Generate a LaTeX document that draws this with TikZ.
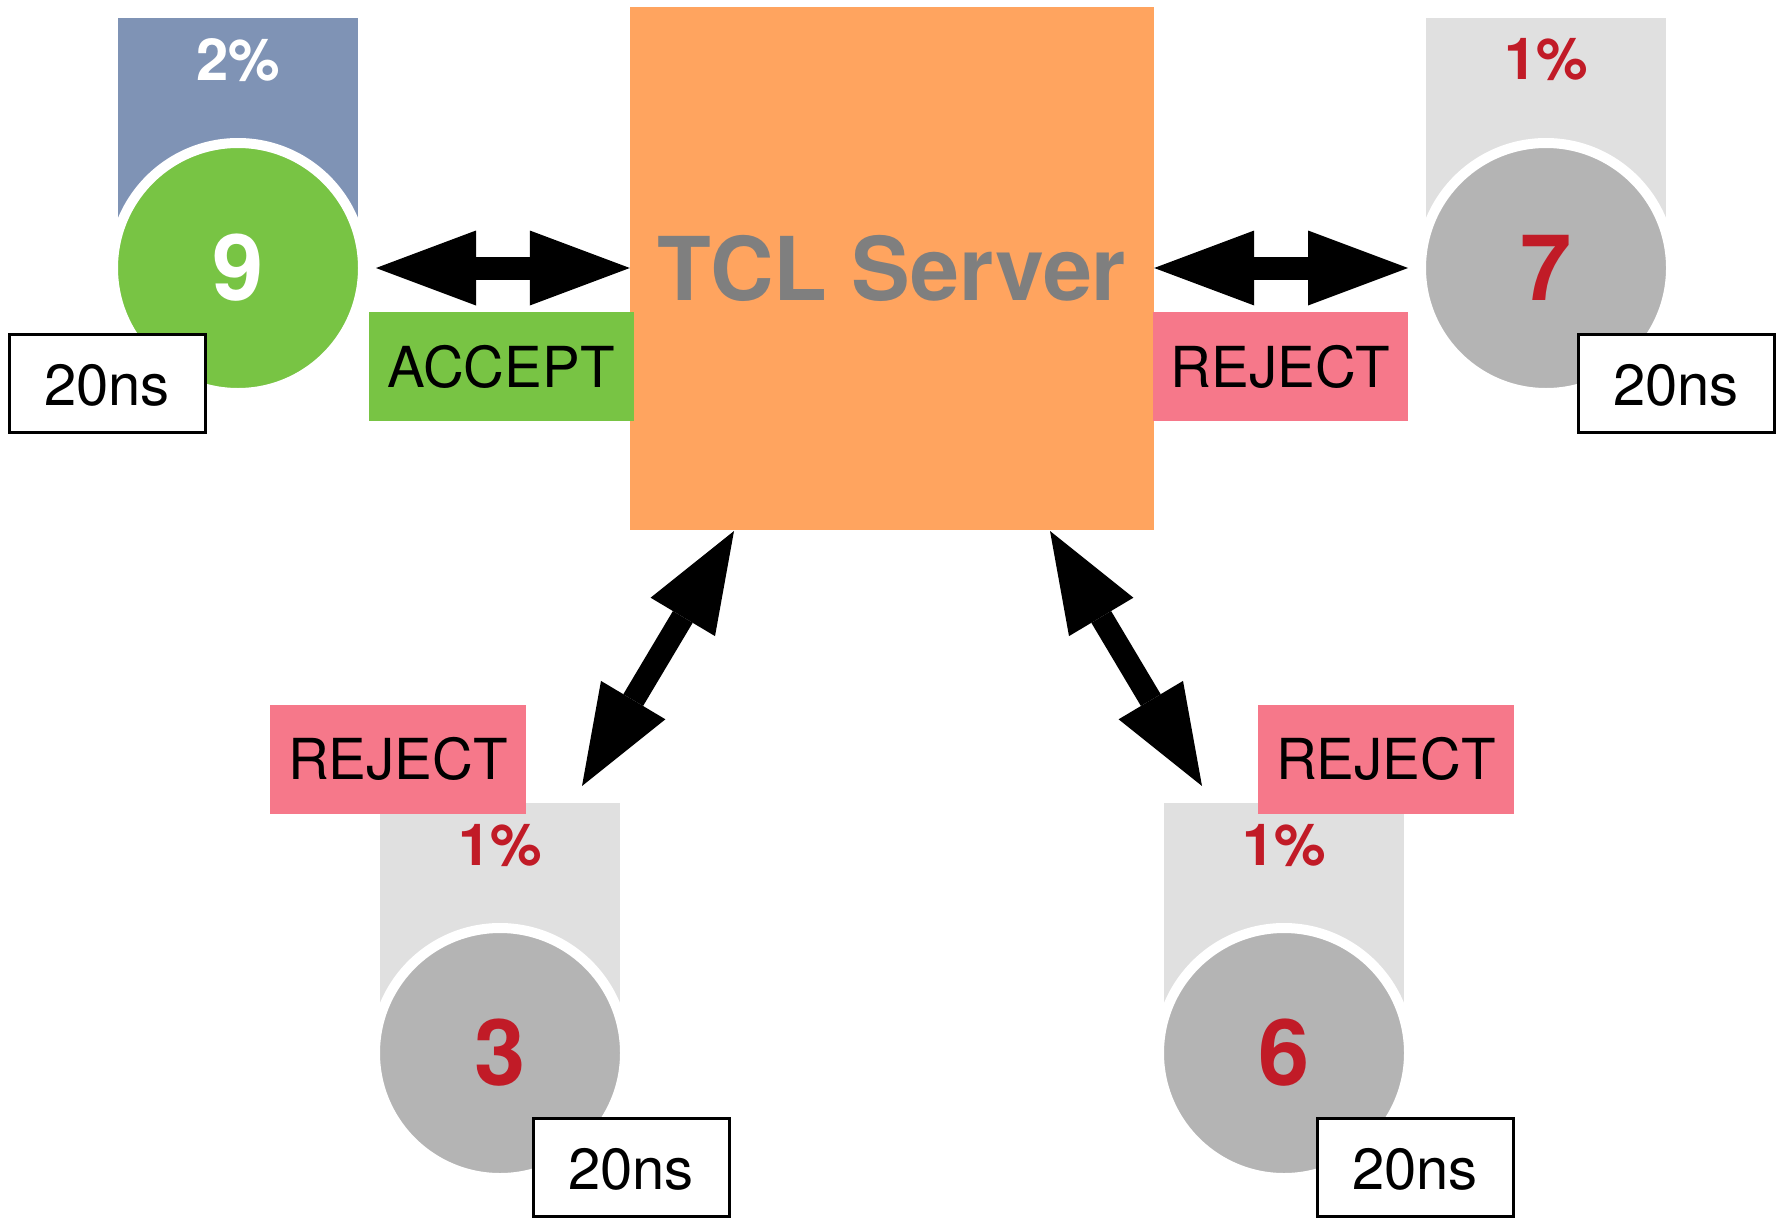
\documentclass[tikz,border=0pt]{standalone}
\usepackage{fontspec}
\setmainfont{TeX Gyre Heros}
\usetikzlibrary{arrows.meta,calc}
\definecolor{barblue}{HTML}{7F93B5}
\definecolor{okgreen}{HTML}{78C444}
\definecolor{srvorange}{HTML}{FFA45F}
\definecolor{nopink}{HTML}{F6788A}
\definecolor{barlight}{HTML}{E0E0E0}
\definecolor{idlegray}{HTML}{B4B4B4}
\definecolor{alertred}{HTML}{C11B27}
\definecolor{srvtext}{HTML}{7F7F7F}

\begin{document}
\begin{tikzpicture}[x=1pt,y=-1pt,
  statbar/.style={rectangle, anchor=north, minimum width=240pt, minimum height=250pt,
    inner sep=0pt, outer sep=0pt},
  disc/.style={circle, draw=white, line width=10pt, minimum size=250pt, inner sep=0pt,
    font=\fontsize{92}{96}\selectfont\bfseries},
  pct/.style={inner sep=0pt, font=\fontsize{58}{62}\selectfont\bfseries},
  timebox/.style={rectangle, draw=black, fill=white, line width=3pt,
    minimum width=196pt, minimum height=98pt, inner sep=0pt,
    font=\fontsize{58}{62}\selectfont},
  timetext/.style={inner sep=0pt, font=\fontsize{58}{62}\selectfont},
  verdict/.style={rectangle, minimum height=109pt, inner sep=0pt,
    font=\fontsize{56.5}{60}\selectfont},
  link/.style={line width=23pt, draw=black,
    {Triangle[length=100pt,width=75pt,line width=0pt]}-{Triangle[length=100pt,width=75pt,line width=0pt]}},
]
\useasboundingbox (0,0) rectangle (1785,1218);

% central server
\node[rectangle, fill=srvorange, minimum width=524pt, minimum height=523pt, inner sep=0pt,
  text=srvtext, font=\fontsize{88}{92}\selectfont\bfseries] (srv) at (892,268.5) {TCL Server};

% client 9 (top left)
\node[statbar, fill=barblue] (b9) at (238,18) {};
\node[pct, text=white] (p9) at (238,60) {2\%};
\node[disc, fill=okgreen, text=white] (n9) at (238,268) {9};
\node[timebox] (t9) at ($(n9)+(-131,115)$) {};
\node[timetext] at ($(t9)+(0,2)$) {20ns};

% client 7 (top right)
\node[statbar, fill=barlight] (b7) at (1546,18) {};
\node[pct, text=alertred] (p7) at (1546,60) {1\%};
\node[disc, fill=idlegray, text=alertred] (n7) at (1546,268) {7};
\node[timebox] (t7) at ($(n7)+(130,115)$) {};
\node[timetext] at ($(t7)+(0,2)$) {20ns};

% client 3 (bottom left)
\node[statbar, fill=barlight] (b3) at (500,803) {};
\node[pct, text=alertred] (p3) at (500,846) {1\%};
\node[disc, fill=idlegray, text=alertred] (n3) at (500,1053) {3};
\node[timebox] (t3) at ($(n3)+(131,114)$) {};
\node[timetext] at ($(t3)+(0,2)$) {20ns};

% client 6 (bottom right)
\node[statbar, fill=barlight] (b6) at (1284,803) {};
\node[pct, text=alertred] (p6) at (1284,846) {1\%};
\node[disc, fill=idlegray, text=alertred] (n6) at (1284,1053) {6};
\node[timebox] (t6) at ($(n6)+(131,114)$) {};
\node[timetext] at ($(t6)+(0,2)$) {20ns};

% verdict labels
\node[verdict, fill=okgreen, minimum width=265pt] (v9) at (501,366.5) {ACCEPT};
\node[verdict, fill=nopink, minimum width=255pt] (v7) at (1280.5,366.5) {REJECT};
\node[verdict, fill=nopink, minimum width=256pt] (v3) at (398,759) {REJECT};
\node[verdict, fill=nopink, minimum width=256pt] (v6) at (1386,759) {REJECT};

% connector end points
\coordinate (s3) at (734,531);
\coordinate (e3) at (582,786);
\coordinate (s6) at (1050,531);
\coordinate (e6) at (1202,786);

% connectors
\draw[link, shorten <=8pt] (n9.east) -- (n9.east -| srv.west);
\draw[link, shorten >=8pt] (n7.west -| srv.east) -- (n7.west);
\draw[link] (s3) -- (e3);
\draw[link] (s6) -- (e6);
\end{tikzpicture}
\end{document}
